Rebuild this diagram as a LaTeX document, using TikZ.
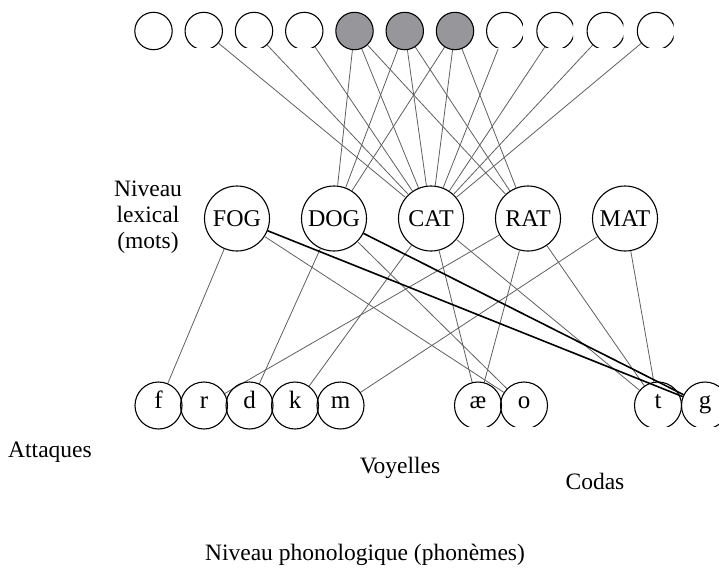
\documentclass[tikz,border=0pt]{standalone}
\usepackage{fontspec}
\setmainfont{Liberation Serif}
\definecolor{unitgray}{RGB}{150,150,155}
\definecolor{linkgray}{RGB}{95,95,95}
\begin{document}
\begin{tikzpicture}[x=1pt,y=-1pt,
  unit/.style={circle, minimum size=37.4pt, inner sep=0pt, outer sep=0.5pt},
  ring/.style={draw=black, line width=1.1pt},
  word/.style={circle, draw=black, line width=1.1pt, minimum size=65pt, inner sep=0pt,
               font=\fontsize{24}{26}\selectfont},
  phon/.style={circle, minimum size=47pt, inner sep=0pt, outer sep=0.5pt,
               text height=11pt, text depth=5pt,
               font=\fontsize{25}{27}\selectfont},
  link/.style={draw=linkgray, line width=0.8pt},
  strong/.style={draw=black, line width=1.6pt},
  lbl/.style={inner sep=0pt, font=\fontsize{23.5}{26}\selectfont}]
\clip (0,0) rectangle (719,568);

% semantic units (top row)
\foreach \i in {1,...,11}
  \node[unit] (s\i) at ({153.5+50.25*(\i-1)},31) {};

% lexical level
\node[word] (FOG) at (237,218.5) {FOG};
\node[word] (DOG) at (334,218.5) {DOG};
\node[word] (CAT) at (431,218.5) {CAT};
\node[word] (RAT) at (528,218.5) {RAT};
\node[word] (MAT) at (625,218.5) {MAT};

% phonological level
\node[phon] (pf)  at (158.5,405.5) {f};
\node[phon] (pr)  at (204,405.5) {r};
\node[phon] (pd)  at (249.5,405.5) {d};
\node[phon] (pk)  at (295,405.5) {k};
\node[phon] (pm)  at (340.5,405.5) {m};
\node[phon] (pae) at (478,405.5) {æ};
\node[phon] (po)  at (524,405.5) {o};
\node[phon] (pt)  at (658,405.5) {t};
\node[phon] (pg)  at (705,405.5) {g};

% semantic -> lexical links
\foreach \i in {2,...,11} \draw[link] (s\i) -- (CAT);
\foreach \i in {5,6,7} {
  \draw[link] (s\i) -- (DOG);
  \draw[link] (s\i) -- (RAT);
}

% lexical -> phonological links
\draw[link] (FOG) -- (pf);
\draw[link] (FOG) -- (po);
\draw[link] (DOG) -- (pd);
\draw[link] (DOG) -- (po);
\draw[link] (CAT) -- (pk);
\draw[link] (CAT) -- (pae);
\draw[link] (CAT) -- (pt);
\draw[link] (RAT) -- (pr);
\draw[link] (RAT) -- (pae);
\draw[link] (RAT) -- (pt);
\draw[link] (MAT) -- (pm);
\draw[link] (MAT) -- (pt);
\draw[strong] (FOG) -- (pg);
\draw[strong] (DOG) -- (pg);

% outlines of the semantic units
\draw[ring] (s1) circle[radius=18.7pt];
\foreach \i in {5,6,7}
  \draw[ring, fill=unitgray] (s\i) circle[radius=18.7pt];
\foreach \i/\rx in {2/20,3/20,4/20,8/17.6,9/17.6,10/17.6,11/17.6} {
  \pgfmathsetmacro\cx{153.5+50.25*(\i-1)}
  \begin{scope}
    \clip (\cx-20,8) rectangle (\cx+\rx,47.2);
    \draw[ring] (s\i) circle[radius=18.7pt];
  \end{scope}
}

% outlines of the phoneme units
\foreach \p in {pf,pr,pd,pk,pm}
  \draw[ring] (\p) circle[radius=23.5pt];
\begin{scope}
  \clip (440,370) rectangle (719,426);
  \foreach \p in {pae,po,pt,pg}
    \draw[ring] (\p) circle[radius=23.5pt];
\end{scope}

% level and group labels
\node[lbl, align=center] (lex) at (148,217) {Niveau\\lexical\\(mots)};
\node[lbl] (att) at (50,452) {Attaques};
\node[lbl] (voy) at (400,468) {Voyelles};
\node[lbl] (cod) at (595,481) {Codas};
\node[lbl] (phono) at (365,555) {Niveau phonologique (phonèmes)};
\end{tikzpicture}
\end{document}
